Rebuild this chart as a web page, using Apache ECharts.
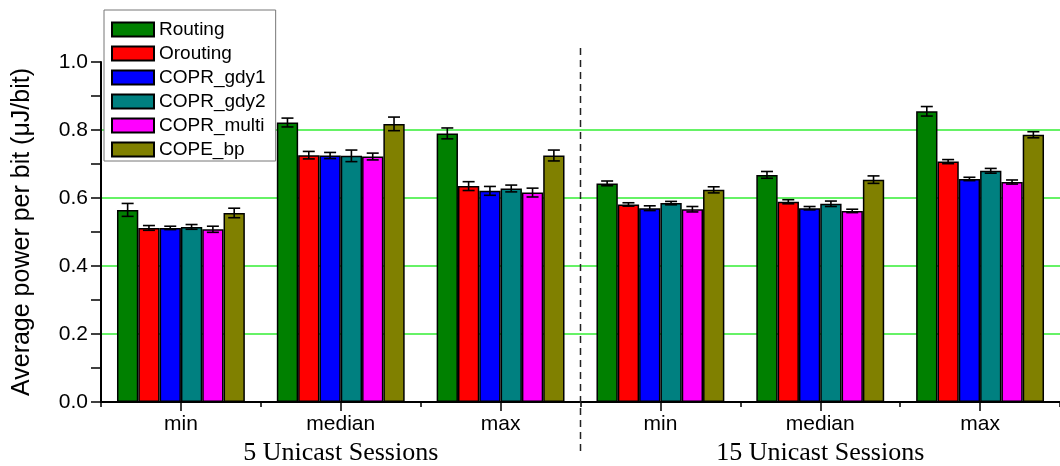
<!DOCTYPE html>
<html>
<head>
<meta charset="utf-8">
<script src="https://cdn.jsdelivr.net/npm/echarts@6/dist/echarts.min.js"></script>
<style>html,body{margin:0;padding:0;background:#fff;}#chart{width:1060px;height:466px;}</style>
</head>
<body>
<div id="chart"></div>
<script>
const categories = ['min', 'median', 'max', 'min', 'median', 'max'];
const groups = ['5 Unicast Sessions', '15 Unicast Sessions'];
const seriesNames = ['Routing', 'Orouting', 'COPR_gdy1', 'COPR_gdy2', 'COPR_multi', 'COPE_bp'];
const yTicks = [0.0, 0.2, 0.4, 0.6, 0.8, 1.0];

const routing    = [0.565, 0.822, 0.790, 0.643, 0.668, 0.855];
const orouting   = [0.512, 0.726, 0.635, 0.581, 0.589, 0.707];
const coprGdy1   = [0.512, 0.725, 0.621, 0.570, 0.570, 0.656];
const coprGdy2   = [0.515, 0.724, 0.628, 0.585, 0.583, 0.680];
const coprMulti  = [0.508, 0.722, 0.616, 0.567, 0.562, 0.647];
const copeBp     = [0.556, 0.818, 0.725, 0.624, 0.654, 0.786];

const routingErr   = [0.019, 0.013, 0.016, 0.007, 0.010, 0.014];
const oroutingErr  = [0.007, 0.011, 0.013, 0.005, 0.006, 0.006];
const coprGdy1Err  = [0.005, 0.009, 0.013, 0.007, 0.005, 0.005];
const coprGdy2Err  = [0.007, 0.017, 0.010, 0.005, 0.008, 0.007];
const coprMultiErr = [0.009, 0.010, 0.013, 0.008, 0.005, 0.006];
const copeBpErr    = [0.014, 0.020, 0.016, 0.009, 0.011, 0.009];

const values = [routing, orouting, coprGdy1, coprGdy2, coprMulti, copeBp];
const errors = [routingErr, oroutingErr, coprGdy1Err, coprGdy2Err, coprMultiErr, copeBpErr];
const colors = ['#008000', '#FF0000', '#0000FF', '#008080', '#FF00FF', '#808000'];

const NB = seriesNames.length;
const GAPFRAC = 0.2;

const chart = echarts.init(document.getElementById('chart'));

const barSeries = seriesNames.map((name, k) => ({
  name: name,
  type: 'bar',
  xAxisIndex: 0,
  data: values[k],
  barGap: '0%',
  barCategoryGap: (GAPFRAC * 100) + '%',
  itemStyle: { color: colors[k], borderColor: '#000', borderWidth: 1.5 },
  z: 3,
  animation: false
}));

const errSeries = seriesNames.map((name, k) => ({
  name: 'err_' + name,
  type: 'custom',
  xAxisIndex: 0,
  z: 5,
  animation: false,
  silent: true,
  encode: { x: 0, y: [1, 2] },
  data: values[k].map((v, i) => [i, v - errors[k][i], v + errors[k][i]]),
  renderItem: function (params, api) {
    const idx = api.value(0);
    const lo = api.coord([idx, api.value(1)]);
    const hi = api.coord([idx, api.value(2)]);
    const band = api.size([1, 0])[0];
    const bw = band * (1 - GAPFRAC) / NB;
    const x = lo[0] - band * (1 - GAPFRAC) / 2 + (k + 0.5) * bw;
    const cap = 6;
    const st = { stroke: '#000', lineWidth: 1.6 };
    return {
      type: 'group',
      children: [
        { type: 'line', shape: { x1: x, y1: lo[1], x2: x, y2: hi[1] }, style: st },
        { type: 'line', shape: { x1: x - cap, y1: lo[1], x2: x + cap, y2: lo[1] }, style: st },
        { type: 'line', shape: { x1: x - cap, y1: hi[1], x2: x + cap, y2: hi[1] }, style: st }
      ]
    };
  }
}));

const option = {
  backgroundColor: '#fff',
  animation: false,
  grid: { left: 101, right: -11, top: 62, bottom: 64, containLabel: false },
  legend: {
    data: seriesNames,
    orient: 'vertical',
    left: 104,
    top: 10,
    padding: [10, 10, 2, 7],
    itemGap: 5,
    itemWidth: 42,
    itemHeight: 14,
    itemTextGap: 6,
    borderColor: '#777',
    borderWidth: 1,
    backgroundColor: '#fff',
    icon: 'rect',
    selectedMode: false,
    textStyle: { fontFamily: 'Liberation Sans, Arial, sans-serif', fontSize: 19, color: '#000' },
    z: 10
  },
  xAxis: [
    {
      type: 'category',
      data: categories,
      position: 'bottom',
      axisLine: { show: true, lineStyle: { color: '#000', width: 2 } },
      axisTick: { show: true, alignWithLabel: true, inside: false, length: 9, lineStyle: { color: '#000', width: 1.5 } },
      axisLabel: { color: '#000', fontFamily: 'Liberation Sans, Arial, sans-serif', fontSize: 21, margin: 12 },
      splitLine: { show: false }
    },
    {
      type: 'category',
      data: categories,
      position: 'bottom',
      axisLine: { show: false },
      axisTick: { show: true, alignWithLabel: false, length: 5, lineStyle: { color: '#000', width: 1.5 } },
      axisLabel: { show: false },
      splitLine: { show: false }
    },
    {
      type: 'category',
      data: groups,
      position: 'bottom',
      axisLine: { show: false },
      axisTick: { show: false },
      axisLabel: { color: '#000', fontFamily: 'Liberation Serif, Times New Roman, serif', fontSize: 26, margin: 38 },
      splitLine: { show: false }
    }
  ],
  yAxis: {
    type: 'value',
    min: yTicks[0],
    max: yTicks[yTicks.length - 1],
    interval: 0.2,
    name: 'Average power per bit (\u03BCJ/bit)',
    nameLocation: 'middle',
    nameGap: 66,
    nameTextStyle: { color: '#000', fontFamily: 'Liberation Sans, Arial, sans-serif', fontSize: 25 },
    axisLine: { show: true, lineStyle: { color: '#000', width: 2 } },
    axisTick: { show: true, inside: false, length: 10, lineStyle: { color: '#000', width: 1.5 } },
    minorTick: { show: true, splitNumber: 2, length: 10, lineStyle: { color: '#000', width: 1.5 } },
    axisLabel: {
      color: '#000', fontFamily: 'Liberation Sans, Arial, sans-serif', fontSize: 21, margin: 13,
      formatter: v => v.toFixed(1)
    },
    splitLine: {
      show: true,
      lineStyle: { color: ['rgba(0,0,0,0)', '#33ee33', '#33ee33', '#33ee33', '#33ee33', 'rgba(0,0,0,0)'], width: 1.5 }
    }
  },
  series: barSeries.concat(errSeries)
};

chart.setOption(option);

const p2 = chart.convertToPixel({ xAxisIndex: 0 }, 2);
const p3 = chart.convertToPixel({ xAxisIndex: 0 }, 3);
const xd = (p2 + p3) / 2;
chart.setOption({
  graphic: [{
    type: 'line',
    shape: { x1: xd, y1: 48, x2: xd, y2: 452 },
    style: { stroke: '#222', lineWidth: 1.5, lineDash: [7, 5] },
    z: 20,
    silent: true
  }]
});
</script>
</body>
</html>
